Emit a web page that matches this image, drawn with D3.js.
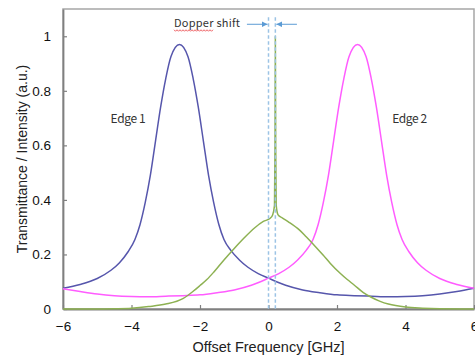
<!DOCTYPE html>
<html lang="en">
<head>
<meta charset="UTF-8">
<script src="https://d3js.org/d3.v7.min.js"></script>
<style>
body{margin:0;background:#fff;}
svg{display:block;}
.tick text{font-family:"Liberation Sans",Arial,sans-serif;font-size:13.5px;fill:#111;}
.lbl{font-family:"Liberation Sans",Arial,sans-serif;font-size:14px;fill:#222;}
.note{font-family:"Noto Sans CJK JP",sans-serif;font-size:11px;fill:#333;}
</style>
</head>
<body>
<svg></svg>
<script>
// values
var xTicks = [-6, -4, -2, 0, 2, 4, 6];
var yTicks = [0, 0.2, 0.4, 0.6, 0.8, 1];
var yTickLabels = ["0", "0.2", "0.4", "0.6", "0.8", "1"];

var edge1Freq = [-6,-5.5,-5,-4.6,-4.35,-4.1,-3.9,-3.75,-3.6,-3.45,-3.3,-3.15,-3,-2.85,-2.6,-2.35,-2.2,-2.05,-1.9,-1.75,-1.6,-1.45,-1.3,-1.1,-0.85,-0.6,-0.3,0,0.5,1,1.5,2,2.5,3,3.5,4,4.5,5,5.5,6];
var edge1 = [0.076,0.09,0.112,0.142,0.17,0.21,0.255,0.31,0.39,0.49,0.615,0.74,0.845,0.925,0.97,0.925,0.845,0.74,0.615,0.49,0.39,0.31,0.255,0.215,0.18,0.153,0.13,0.113,0.087,0.07,0.06,0.052,0.049,0.047,0.045,0.046,0.049,0.055,0.064,0.076];

var edge2Freq = [-6,-5.5,-5,-4.5,-4,-3.5,-3,-2.5,-2,-1.5,-1,-0.5,0,0.3,0.6,0.85,1.1,1.3,1.45,1.6,1.75,1.9,2.05,2.2,2.35,2.6,2.85,3,3.15,3.3,3.45,3.6,3.75,3.9,4.1,4.35,4.6,5,5.5,6];
var edge2 = [0.074,0.064,0.055,0.049,0.046,0.045,0.047,0.049,0.052,0.06,0.07,0.087,0.113,0.13,0.153,0.18,0.215,0.255,0.31,0.39,0.49,0.615,0.74,0.845,0.925,0.97,0.925,0.845,0.74,0.615,0.49,0.39,0.31,0.255,0.21,0.17,0.142,0.112,0.09,0.076];

var signalFreq = [-6,-5,-4.5,-4,-3.5,-3,-2.5,-2.2,-2,-1.8,-1.6,-1.3,-1,-0.7,-0.4,-0.15,0.05,0.12,0.175,0.19,0.2,0.21,0.225,0.28,0.4,0.6,0.9,1.1,1.4,1.6,1.8,2.1,2.3,2.5,2.77,3,3.26,3.5,4,4.5,5,6];
var signal = [0,0,0.001,0.003,0.009,0.018,0.038,0.065,0.086,0.108,0.135,0.18,0.222,0.262,0.298,0.321,0.333,0.345,0.38,0.6,1.0,0.6,0.38,0.345,0.334,0.318,0.29,0.265,0.225,0.197,0.168,0.13,0.108,0.088,0.06,0.043,0.028,0.018,0.007,0.003,0.001,0];

var shiftFrom = 0, shiftTo = 0.2;

var width = 475, height = 356;
var margin = {top: 9, right: 1, bottom: 47, left: 63};

var svg = d3.select("svg")
	.attr("width", width)
	.attr("height", height);

var x = d3.scaleLinear().domain([-6, 6]).range([margin.left, width - margin.right]);
var y = d3.scaleLinear().domain([0, 1.1]).range([height - margin.bottom, margin.top]);

// frame
svg.append("rect")
	.attr("x", x(-6)).attr("y", y(1.1))
	.attr("width", x(6) - x(-6)).attr("height", y(0) - y(1.1))
	.attr("fill", "none")
	.attr("stroke", "#a6a6a6")
	.attr("stroke-width", 1.5);

svg.append("g")
	.attr("transform", "translate(0," + y(0) + ")")
	.call(d3.axisBottom(x).tickValues(xTicks).tickSizeInner(-4).tickSizeOuter(0).tickPadding(12));

svg.append("g")
	.attr("transform", "translate(" + x(-6) + ",0)")
	.call(d3.axisLeft(y).tickValues(yTicks).tickSizeInner(-4).tickSizeOuter(0).tickPadding(12)
		.tickFormat(function(d, i) { return yTickLabels[i]; }));

svg.selectAll(".domain").attr("stroke", "#808080").attr("stroke-width", 1.8);
svg.selectAll(".tick line").attr("stroke", "#808080").attr("stroke-width", 1.2);

function drawLine(freq, vals, color) {
	var pts = freq.map(function(f, i) { return [f, vals[i]]; });
	svg.append("path")
		.datum(pts)
		.attr("fill", "none")
		.attr("stroke", color)
		.attr("stroke-width", 1.5)
		.attr("stroke-linejoin", "round")
		.attr("d", d3.line()
			.curve(d3.curveMonotoneX)
			.x(function(d) { return x(d[0]); })
			.y(function(d) { return y(d[1]); }));
}

drawLine(edge1Freq, edge1, "#5656ac");
drawLine(edge2Freq, edge2, "#ff5cff");
drawLine(signalFreq, signal, "#8db152");

// dashed markers for the shift
[shiftFrom, shiftTo].forEach(function(f) {
	svg.append("line")
		.attr("x1", x(f)).attr("x2", x(f))
		.attr("y1", y(1.07)).attr("y2", y(0))
		.attr("stroke", "#9cc3e5")
		.attr("stroke-width", 1.5)
		.attr("stroke-dasharray", "3.5,2.5");
});

svg.append("defs").append("marker")
	.attr("id", "arr")
	.attr("viewBox", "0 0 10 10")
	.attr("refX", 10).attr("refY", 5)
	.attr("markerWidth", 6).attr("markerHeight", 6)
	.attr("markerUnits", "userSpaceOnUse")
	.attr("orient", "auto")
	.append("path")
	.attr("d", "M0,0L10,5L0,10z")
	.attr("fill", "#5b9bd5");

svg.append("line")
	.attr("x1", x(-0.63)).attr("x2", x(shiftFrom) - 1)
	.attr("y1", y(1.044)).attr("y2", y(1.044))
	.attr("stroke", "#5b9bd5").attr("stroke-width", 1)
	.attr("marker-end", "url(#arr)");

svg.append("line")
	.attr("x1", x(0.83)).attr("x2", x(shiftTo) + 1)
	.attr("y1", y(1.044)).attr("y2", y(1.044))
	.attr("stroke", "#5b9bd5").attr("stroke-width", 1)
	.attr("marker-end", "url(#arr)");

var shiftText = svg.append("text")
	.attr("class", "note")
	.attr("x", x(-0.832)).attr("y", y(1.033))
	.attr("text-anchor", "end")
	.attr("textLength", 66)
	.attr("lengthAdjust", "spacing")
	.text("Dopper shift");

// spell-check squiggle under the misspelt word
var n = shiftText.node();
var sx = n.getStartPositionOfChar(0).x, ex = n.getEndPositionOfChar(5).x;
var sq = d3.range(sx, ex, 1.5).map(function(v, i) { return [v, y(1.033) + 2.5 + (i % 2) * 1.5]; });
svg.append("path")
	.attr("d", d3.line()(sq))
	.attr("fill", "none")
	.attr("stroke", "#e8393c")
	.attr("stroke-width", 0.8);

svg.append("text")
	.attr("class", "note")
	.style("font-size", "12px")
	.attr("x", x(-4.61)).attr("y", y(0.697))
	.attr("dy", "0.35em")
	.attr("textLength", 35)
	.text("Edge 1");

svg.append("text")
	.attr("class", "note")
	.style("font-size", "12px")
	.attr("x", x(3.61)).attr("y", y(0.697))
	.attr("dy", "0.35em")
	.attr("textLength", 35)
	.text("Edge 2");

svg.append("text")
	.attr("class", "lbl")
	.style("font-size", "14.5px")
	.attr("x", x(0)).attr("y", 352)
	.attr("text-anchor", "middle")
	.text("Offset Frequency [GHz]");

svg.append("text")
	.attr("class", "lbl")
	.attr("transform", "translate(22," + 159 + ") rotate(-90)")
	.attr("text-anchor", "middle")
	.attr("dy", "0.35em")
	.text("Transmittance / Intensity (a.u.)");
</script>
</body>
</html>
